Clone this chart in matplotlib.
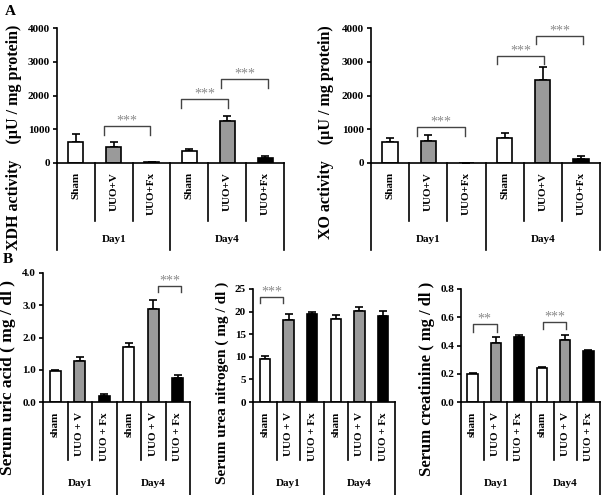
import numpy as np
from matplotlib import pyplot as plt

plt.rcParams['font.family'] = ['Liberation Serif', 'DejaVu Serif']
plt.rcParams['font.weight'] = 'bold'

groups_a = ['Sham', 'UUO+V', 'UUO+Fx', 'Sham', 'UUO+V', 'UUO+Fx']
groups_b = ['sham', 'UUO + V', 'UUO + Fx', 'sham', 'UUO + V', 'UUO + Fx']
days = ['Day1', 'Day4']
bar_colors = ['white', '#9a9a9a', 'black']

xdh_mean = [620, 480, 20, 360, 1240, 160]
xdh_err = [250, 140, 0, 50, 160, 50]
xo_mean = [620, 650, 10, 740, 2460, 130]
xo_err = [120, 190, 0, 150, 380, 70]
uric_mean = [0.95, 1.27, 0.20, 1.70, 2.87, 0.73]
uric_err = [0.04, 0.13, 0.05, 0.14, 0.28, 0.12]
bun_mean = [9.5, 18.1, 19.4, 18.4, 20.2, 19.1]
bun_err = [0.6, 1.3, 0.6, 0.9, 0.8, 1.0]
creat_mean = [0.20, 0.42, 0.46, 0.24, 0.44, 0.36]
creat_err = [0.005, 0.04, 0.015, 0.005, 0.035, 0.01]

W, H = 605, 495
fig = plt.figure(figsize=(W / 100, H / 100), dpi=100)


def px_axes(left, top, right, bottom):
    return fig.add_axes([left / W, 1 - bottom / H, (right - left) / W, (bottom - top) / H])


def draw_panel(box, means, errs, labels, yticks, fmt, brackets, short_px, long_px,
               lab_px, day_px, bar_w):
    ax = px_axes(*box)
    h = box[3] - box[1]
    x = np.arange(len(means))
    colors = bar_colors * 2
    ax.bar(x, means, width=bar_w, color=colors, edgecolor='black', linewidth=1.2, zorder=2)
    ax.errorbar(x, means, yerr=[np.zeros(len(errs)), errs], fmt='none', ecolor='black',
                elinewidth=1.2, capsize=3, capthick=1.2, zorder=1)
    ax.set_xlim(-0.5, len(means) - 0.5)
    ax.set_ylim(yticks[0], yticks[-1])
    ax.set_yticks(yticks)
    ax.set_yticklabels([fmt % v for v in yticks], fontsize=8, fontweight='bold')
    ax.set_xticks([])
    for s in ['top', 'right']:
        ax.spines[s].set_visible(False)
    ax.spines['left'].set_linewidth(1.2)
    ax.spines['bottom'].set_linewidth(1.2)
    ax.tick_params(axis='y', length=3, width=1.2, pad=2)

    tr = ax.get_xaxis_transform()
    for sep in [0.5, 1.5, 3.5, 4.5]:
        ax.plot([sep, sep], [0, -short_px / h], color='black', lw=1.2, transform=tr, clip_on=False)
    for sep in [-0.5, 2.5, 5.5]:
        ax.plot([sep, sep], [0, -long_px / h], color='black', lw=1.2, transform=tr, clip_on=False)
    for i, lab in enumerate(labels):
        ax.text(i, -lab_px / h, lab, rotation=90, ha='center', va='top', fontsize=8,
                fontweight='bold', transform=tr)
    for k, d in enumerate(days):
        ax.text(1 + 3 * k, -day_px / h, d, ha='center', va='center', fontsize=8,
                fontweight='bold', transform=tr)

    for left, right, top, drop, stars in brackets:
        ax.plot([left, left, right, right], [top - drop, top, top, top - drop],
                color='#444444', lw=1, clip_on=False)
        ax.annotate(stars, xy=((left + right) / 2, top), xytext=(0, 1),
                    textcoords='offset points', ha='center', va='baseline',
                    fontsize=10, color='#8a8a8a', fontweight='normal')
    return ax


draw_panel((57, 28, 284, 163), xdh_mean, xdh_err, groups_a, [0, 1000, 2000, 3000, 4000], '%d',
           [(0.75, 1.95, 1090, 270, '***'), (2.78, 4.02, 1900, 260, '***'),
            (3.84, 5.08, 2480, 270, '***')], 58, 87, 9, 77, 0.4)
draw_panel((371, 28, 600, 163), xo_mean, xo_err, groups_a, [0, 1000, 2000, 3000, 4000], '%d',
           [(0.70, 1.96, 1070, 270, '***'), (2.80, 4.03, 3160, 230, '***'),
            (3.82, 5.05, 3770, 250, '***')], 58, 87, 9, 77, 0.4)
draw_panel((43, 273, 190, 402), uric_mean, uric_err, groups_b, [0.0, 1.0, 2.0, 3.0, 4.0], '%.1f',
           [(4.2, 5.15, 3.6, 0.2, '***')], 58, 93, 10, 81, 0.45)
draw_panel((253, 289, 395, 402), bun_mean, bun_err, groups_b, [0, 5, 10, 15, 20, 25], '%d',
           [(-0.2, 0.75, 23.3, 1.5, '***')], 58, 93, 10, 81, 0.45)
draw_panel((461, 289, 600, 402), creat_mean, creat_err, groups_b, [0.0, 0.2, 0.4, 0.6, 0.8], '%.1f',
           [(0.0, 1.05, 0.55, 0.054, '**'), (3.05, 4.05, 0.568, 0.052, '***')], 58, 93, 10, 81, 0.45)

ylabels = [('XDH activity    (\u00b5U / mg protein)', 14, 25, 11.5),
           ('XO activity    (\u00b5U / mg protein)', 326, 25, 11.5),
           ('Serum uric acid ( mg / dl )', 8, 280, 12.5),
           ('Serum urea nitrogen ( mg / dl )', 222, 282, 11),
           ('Serum creatinine ( mg / dl )', 427, 282, 12)]
for text, xp, yp, size in ylabels:
    fig.text(xp / W, 1 - yp / H, text, rotation=90, ha='center', va='top',
             fontsize=size, fontweight='bold')

fig.text(5 / W, 1 - 5 / H, 'A', fontsize=11, fontweight='bold', va='top')
fig.text(3 / W, 1 - 253 / H, 'B', fontsize=11, fontweight='bold', va='top')

fig.savefig('out.png', dpi=100)
